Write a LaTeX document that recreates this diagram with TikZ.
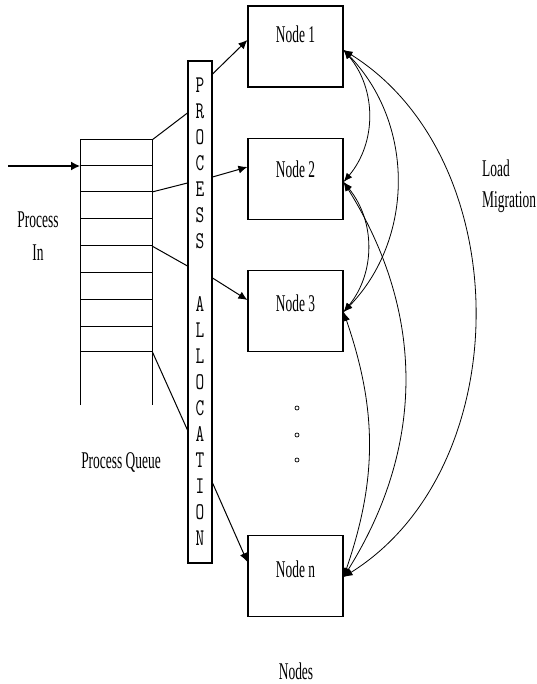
\documentclass[tikz,border=0pt]{standalone}
\usepackage{fontspec}
\usetikzlibrary{arrows.meta}
\newfontfamily\lab{Liberation Serif}[FakeStretch=0.56]
\newfontfamily\monolab{Latin Modern Mono}[FakeStretch=0.7]
\begin{document}
\begin{tikzpicture}[x=1pt,y=-1pt,
  txt/.style={font={\lab\fontsize{24}{28}\selectfont},inner sep=0pt,anchor=base},
  nodebox/.style={draw,line width=1.2pt,minimum width=95pt,minimum height=81pt,inner sep=0pt},
  allocbox/.style={draw,line width=1.1pt,minimum width=24pt,minimum height=502pt,inner sep=0pt,
    align=center,font={\monolab\fontsize{24}{26}\selectfont}},
  qline/.style={line width=1pt},
  feed/.style={line width=1pt},
  alloc/.style={line width=1pt,-{Latex[length=9pt,width=8pt]}},
  migr/.style={line width=0.8pt,{Latex[length=9pt,width=7pt]}-{Latex[length=9pt,width=7pt]}},
  dot/.style={circle,draw,line width=0.7pt,inner sep=0pt,minimum size=4pt}]
\useasboundingbox (0,0) rectangle (537,684);

% process queue
\draw[qline] (80,405) -- (80,140) -- (152,140) -- (152,405);
\foreach \yy in {166,192,219,246,272,299,326,351}
  \draw[qline] (80,\yy) -- (152,\yy);
\coordinate (qa) at (152,140);
\coordinate (qb) at (152,192);
\coordinate (qc) at (152,246);
\coordinate (qd) at (152,351);
\coordinate (qin) at (80,166);
\coordinate (src) at (8,166);
\draw[line width=1.4pt,-{Latex[length=9pt,width=9pt]}] (src) -- (qin);

% labels
\node[txt] (lp) at (38,228) {Process};
\node[txt] (li) at (38,261) {In};
\node[txt] (lq) at (121,468) {Process Queue};
\node[txt] (ln) at (296,679) {Nodes};
\node[txt,anchor=base west] (ll) at (482,177) {Load};
\node[txt,anchor=base west] (lm) at (482,208) {Migration};

% process allocation
\node[allocbox] (al) at (200,312) {P\\R\\O\\C\\E\\S\\S\\[37pt]A\\L\\L\\O\\C\\A\\T\\I\\O\\N};

% nodes
\node[nodebox] (n1) at (295.5,46.5) {};
\node[nodebox] (n2) at (295.5,179) {};
\node[nodebox] (n3) at (295.5,311) {};
\node[nodebox] (nn) at (295.5,576) {};
\node[txt] (t1) at (295.5,43) {Node 1};
\node[txt] (t2) at (295.5,178) {Node 2};
\node[txt] (t3) at (295.5,311) {Node 3};
\node[txt] (tn) at (295.5,577) {Node n};

% dots
\node[dot] (d1) at (297,408) {};
\node[dot] (d2) at (297,435) {};
\node[dot] (d3) at (297,460) {};

% queue to allocation
\draw[feed] (qa) -- ([yshift=199pt]al.west);
\draw[feed] (qb) -- ([yshift=129pt]al.west);
\draw[feed] (qc) -- ([yshift=46pt]al.west);
\draw[feed] (qd) -- ([yshift=-118pt]al.west);

% allocation to nodes
\draw[alloc] ([yshift=238pt]al.east) -- ([yshift=6.5pt]n1.west);
\draw[alloc] ([yshift=135pt]al.east) -- ([yshift=12pt]n2.west);
\draw[alloc] ([yshift=34pt]al.east) -- ([yshift=11pt]n3.west);
\draw[alloc] ([yshift=-171pt]al.east) -- ([yshift=14pt]nn.west);

% load migration
\coordinate (e1) at ([yshift=-3.5pt]n1.east);
\coordinate (e2) at ([yshift=-3pt]n2.east);
\coordinate (e3) at ([yshift=-1pt]n3.east);
\coordinate (en) at ([yshift=-1pt]nn.east);
\draw[migr] (e1) to[bend left=40] (e2);
\draw[migr] (e1) to[bend left=44] (e3);
\draw[migr] (e1) to[bend left=58] (en);
\draw[migr] (e2) to[bend left=39] (e3);
\draw[migr] (e2) to[bend left=32] (en);
\draw[migr] (e3) to[bend left=19] (en);
\end{tikzpicture}
\end{document}
